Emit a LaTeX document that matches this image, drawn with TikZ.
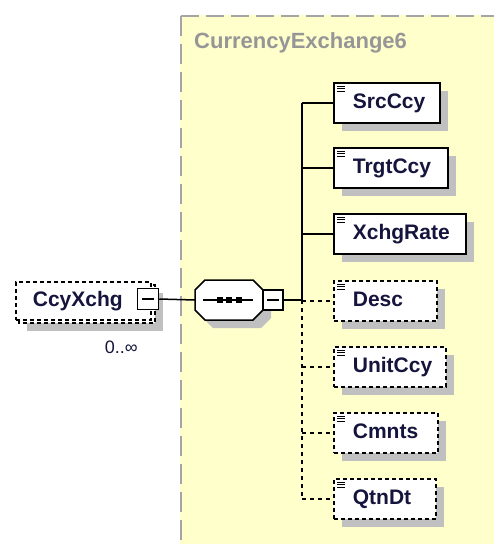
\documentclass[tikz,border=0pt]{standalone}
\usepackage{fontspec}
\setmainfont{Liberation Sans}
\usetikzlibrary{shadows}
\definecolor{bgyellow}{RGB}{255,255,204}
\definecolor{shadowgray}{RGB}{192,192,192}
\definecolor{navy}{RGB}{20,20,60}
\definecolor{titlegray}{RGB}{150,150,150}
\definecolor{bordergray}{RGB}{165,165,165}
\newcommand\elemfont{\fontsize{21}{25}\selectfont\bfseries}
\newcommand\titlefont{\fontsize{22}{26}\selectfont\bfseries}
\newcommand\multfont{\fontsize{18}{22}\selectfont}
\tikzset{
  ebox/.style={draw=black, line width=1.8pt, fill=white, anchor=north west,
    minimum height=40pt, inner sep=0pt, font=\elemfont, text=navy, align=left,
    text height=15pt, text depth=4pt,
    drop shadow={shadow xshift=8pt, shadow yshift=-8pt, fill=shadowgray, opacity=1}},
  optbox/.style={ebox, dash pattern=on 4pt off 3pt},
  optline/.style={draw=black, line width=1.8pt, dash pattern=on 4pt off 3pt},
  sqbox/.style={draw=black, line width=1.5pt, fill=white, minimum size=21pt, inner sep=0pt},
  conn/.style={draw=black, line width=1.5pt},
  dconn/.style={conn, dash pattern=on 4pt off 4pt},
  iconline/.style={draw=black, line width=1pt}
}
\begin{document}
\begin{tikzpicture}[x=1pt,y=-1pt]
\useasboundingbox (0,0) rectangle (494,544);
% yellow type area
\fill[bgyellow] (180,15) rectangle (494,544);
\draw[bordergray, line width=1.5pt, dash pattern=on 20pt off 8pt] (181,16) -- (181,544);
\draw[bordergray, line width=1.5pt, dash pattern=on 18pt off 7pt] (181,16) -- (494,16);
\node[anchor=west, font=\titlefont, text=titlegray, inner sep=0pt] (title) at (194,43) {CurrencyExchange6};

% CcyXchg (multiple, optional)
\fill[shadowgray] (27,293) rectangle (163,331);
\draw[optline, fill=white] (19,285) rectangle (155,323);
\node[draw=black, line width=1.8pt, dash pattern=on 4pt off 3pt, fill=white, anchor=north west,
    minimum height=38pt, inner sep=0pt, font=\elemfont, text=navy, align=left,
    text height=15pt, text depth=4pt, text width=135pt] (ccy) at (15,281) {\hspace*{17pt}CcyXchg};
\node[sqbox] (csq) at (148,299) {};
\draw[line width=1.4pt] ([xshift=-6pt]csq.center) -- ([xshift=6pt]csq.center);
\node[anchor=east, font=\multfont, text=navy, inner sep=0pt] (mult) at (138,347) {0..∞};

% sequence compositor
\node[minimum width=68pt, minimum height=40pt, inner sep=0pt] (seq) at (229,300) {};
\fill[shadowgray] (213,288) -- (261,288) -- (271,298) -- (271,318) -- (261,328) -- (213,328) -- (203,318) -- (203,298) -- cycle;
\draw[line width=1.5pt, fill=white] (205,280) -- (253,280) -- (263,290) -- (263,310) -- (253,320) -- (205,320) -- (195,310) -- (195,290) -- cycle;
\draw[line width=1.5pt] (203,300) -- (253,300);
\fill (217,297) rectangle (223,303);
\fill (226,297) rectangle (232,303);
\fill (236,297) rectangle (242,303);
\node[sqbox, minimum size=20pt] (ssq) at (273,300) {};
\draw[line width=1.4pt] ([xshift=-6pt]ssq.center) -- ([xshift=6pt]ssq.center);

\draw[conn] (csq.east) -- (seq.west);
\coordinate (j) at (302,300);
\draw[conn] (ssq.east) -- (j);

% children
\node[ebox, text width=106pt] (src) at (333,82) {\hspace*{19pt}SrcCcy};
\node[ebox, text width=114pt] (trg) at (333,147) {\hspace*{19pt}TrgtCcy};
\node[ebox, text width=132pt] (xch) at (333,213) {\hspace*{19pt}XchgRate};
\node[optbox, text width=103pt] (desc) at (333,280) {\hspace*{19pt}Desc};
\node[optbox, text width=112pt] (unit) at (333,346) {\hspace*{19pt}UnitCcy};
\node[optbox, text width=104pt] (cmnt) at (333,412) {\hspace*{19pt}Cmnts};
\node[optbox, text width=102pt] (qtn) at (333,478) {\hspace*{19pt}QtnDt};

\foreach \n in {src,trg,xch,desc,unit,cmnt,qtn}{
  \foreach \d in {4,6.5,9}{
    \draw[iconline] ([xshift=4pt,yshift=-\d pt]\n.north west) -- ++(8pt,0pt);
  }
}

% connectors
\draw[conn] (j |- src.west) -- (j);
\draw[conn] (j |- src.west) -- (src.west);
\draw[conn] (j |- trg.west) -- (trg.west);
\draw[conn] (j |- xch.west) -- (xch.west);
\draw[dconn] (j) -- (j |- qtn.west);
\draw[dconn] (j |- desc.west) -- (desc.west);
\draw[dconn] (j |- unit.west) -- (unit.west);
\draw[dconn] (j |- cmnt.west) -- (cmnt.west);
\draw[dconn] (j |- qtn.west) -- (qtn.west);
\end{tikzpicture}
\end{document}
